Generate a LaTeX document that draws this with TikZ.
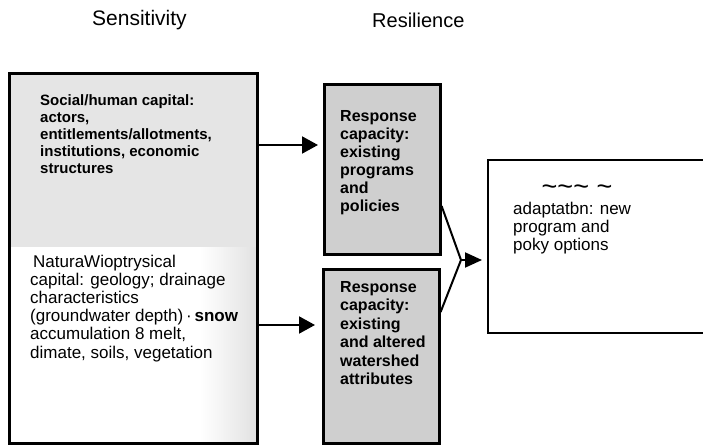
\documentclass[tikz,border=0pt]{standalone}
\usepackage{fontspec}
\setmainfont{Liberation Sans}
\usetikzlibrary{arrows.meta,backgrounds}
\begin{document}
\begin{tikzpicture}[x=1pt,y=-1pt,
  box/.style={draw, line width=2.6pt, inner sep=0pt, anchor=north west},
  txt/.style={anchor=north west, inner sep=0pt, align=left},
  title/.style={anchor=base west, inner sep=0pt},
  conn/.style={line width=2pt},
  arr/.style={line width=2pt, -{Triangle[length=16pt,width=17pt]}},
  arrb/.style={line width=2pt, -{Triangle[length=17pt,width=15pt]}}]
\useasboundingbox (0,0) rectangle (703,446);

% titles
\node[title, font=\fontsize{21}{21}\selectfont] (S) at (92,26) {Sensitivity};
\node[title, font=\fontsize{20}{20}\selectfont] (Re) at (372,28) {Resilience};

% boxes
\node[box, minimum width=248pt, minimum height=370pt] (L) at (8,72) {};
\node[box, minimum width=116pt, minimum height=170pt] (T) at (323,83) {};
\node[box, minimum width=116pt, minimum height=174pt] (B) at (322,268) {};
\node[inner sep=0pt, anchor=north west, minimum width=215pt, minimum height=173pt] (R) at (488,160) {};
\draw[line width=2pt] (R.north east) -- (R.north west) -- (R.south west) -- (R.south east);

\begin{scope}[on background layer]
\fill[gray!20] (L.north west) rectangle (L.east |- 0,247);
\shade[left color=white, right color=gray!24] (200,247) rectangle (L.south east);
\fill[gray!38] (T.north west) rectangle (T.south east);
\fill[gray!38] (B.north west) rectangle (B.south east);
\end{scope}

% texts
\node[txt, font=\fontsize{15}{17}\selectfont\bfseries] (LT) at (40,94)
  {Social/human capital:\\actors,\\entitlements/allotments,\\institutions, economic\\structures};
\node[txt, font=\fontsize{17}{18.2}\selectfont] (LN) at (30,254.6)
  {\hspace*{3pt}NaturaWioptrysical\\capital: geology; drainage\\characteristics\\(groundwater depth)\,·\,\textbf{snow}\\accumulation 8 melt,\\dimate, soils, vegetation};
\node[txt, font=\fontsize{16}{18}\selectfont\bfseries] (TT) at (340,110)
  {Response\\capacity:\\existing\\programs\\and\\policies};
\node[txt, font=\fontsize{16}{18.4}\selectfont\bfseries] (BT) at (340,281.3)
  {Response\\capacity:\\existing\\and altered\\watershed\\attributes};
\node[inner sep=0pt, font=\fontsize{27}{27}\selectfont] (RW) at (577,190)
  {\textasciitilde\textasciitilde\textasciitilde\ \textasciitilde};
\node[txt, font=\fontsize{17}{18}\selectfont] (RT) at (513,201.6)
  {adaptatbn: new\\program and\\poky options};

% connectors
\draw[arr, shorten >=5pt] (L.east |- 0,145) -- (T.west |- 0,145);
\draw[arr, shorten >=7pt] (L.east |- 0,325) -- (B.west |- 0,325);
\coordinate (J) at (461,260);
\draw[conn] (T.east |- 0,206) -- (J) -- (B.east |- 0,312);
\draw[arrb, shorten >=6pt] (J) -- (R.west |- J);
\end{tikzpicture}
\end{document}
